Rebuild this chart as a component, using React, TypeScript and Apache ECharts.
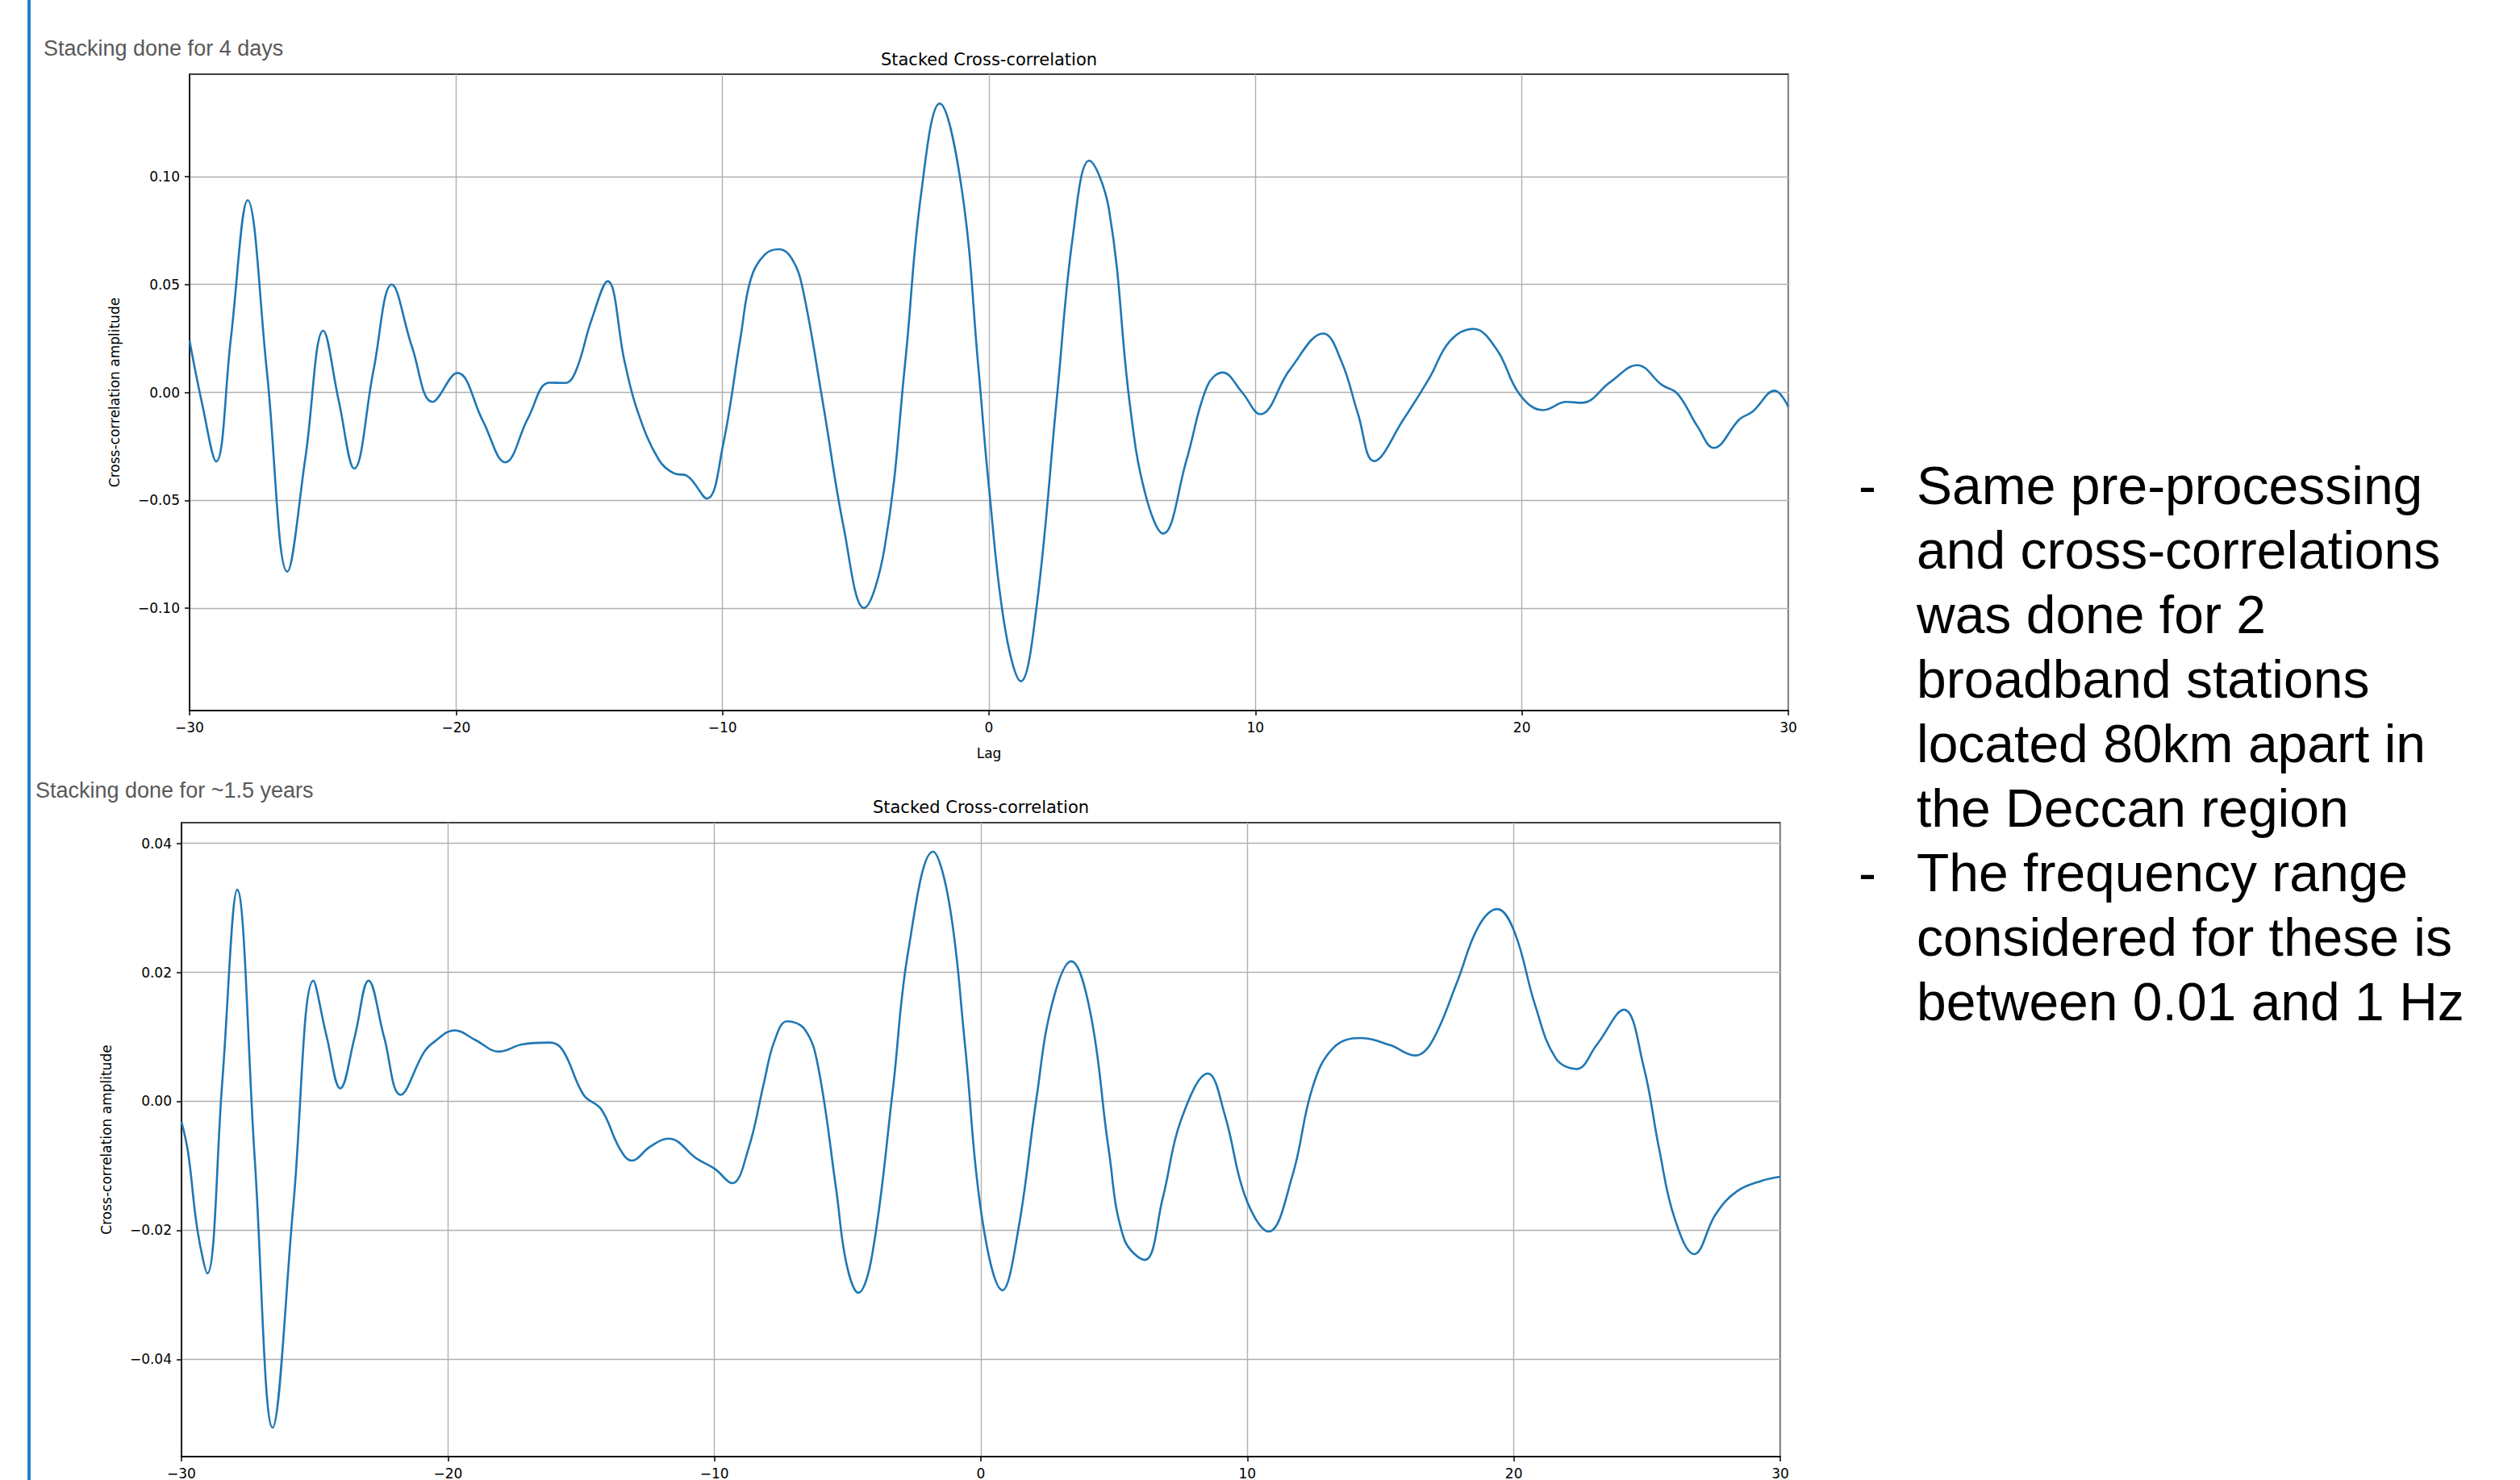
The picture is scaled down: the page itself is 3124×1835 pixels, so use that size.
import React, { useEffect, useRef } from "react";
import * as echarts from "echarts";

// ---- Data ----
const topLags = [
  -30.0, -29.55, -29.0, -28.45, -27.82, -27.1, -26.33, -25.65, -24.98, -24.4, -23.82, -23.1, -22.41,
  -21.65, -20.88, -19.95, -19.0, -18.15, -17.3, -16.5, -15.9, -15.5, -14.93, -14.31, -13.67, -13.19,
  -12.4, -11.8, -11.35, -10.58, -10.0, -9.32, -8.94, -8.4, -7.87, -7.4, -7.0, -6.23, -5.46, -4.69,
  -3.91, -3.14, -2.56, -1.85, -1.02, -0.4, 0.0, 0.6, 1.2, 1.78, 2.56, 3.14, 3.76, 4.5, 5.28, 5.86,
  6.54, 7.41, 8.19, 8.77, 9.5, 10.18, 11.29, 12.55, 13.23, 13.85, 14.45, 15.56, 16.53, 17.3, 18.18,
  19.05, 19.92, 20.8, 21.67, 22.25, 23.32, 24.33, 25.26, 25.84, 26.6, 27.2, 28.17, 28.65, 29.49, 30.0,
];
const topValues = [
  0.024, -0.004, -0.032, 0.025, 0.089, 0.01, -0.083, -0.03, 0.0286, -0.004, -0.0353, 0.01, 0.05,
  0.021, -0.0044, 0.009, -0.013, -0.0324, -0.012, 0.0045, 0.0044, 0.01, 0.033, 0.0515, 0.014, -0.0086,
  -0.031, -0.0376, -0.0385, -0.0492, -0.0257, 0.0257, 0.0524, 0.064, 0.0663, 0.062, 0.0486, -0.005,
  -0.062, -0.0999, -0.0715, 0.0143, 0.0906, 0.1338, 0.094, 0.012, -0.044, -0.109, -0.1338, -0.1, -0.001,
  0.0715, 0.1073, 0.085, -0.0048, -0.0467, -0.0654, -0.0315, 0.0029, 0.0092, 0.0, -0.0101, 0.0105,
  0.0273, 0.0143, -0.01, -0.0318, -0.0124, 0.0067, 0.0238, 0.0294, 0.02, -0.001, -0.0082, -0.0044,
  -0.0048, 0.0048, 0.0126, 0.0034, -0.0006, -0.016, -0.0257, -0.0124, -0.009, 0.0008, -0.0067,
];

const bottomLags = [
  -30.0, -29.75, -29.4, -29.03, -28.47, -27.91, -27.25, -26.58, -25.8, -25.05, -24.55, -24.04, -23.5,
  -22.98, -22.4, -21.78, -20.9, -20.52, -19.75, -18.97, -18.08, -17.23, -16.17, -15.69, -14.91, -14.24,
  -13.56, -13.11, -12.4, -11.72, -10.66, -9.98, -9.34, -8.72, -8.14, -7.76, -7.27, -6.6, -6.11, -5.43,
  -5.05, -4.6, -4.08, -3.31, -2.73, -1.8, -1.18, -0.6, 0.04, 0.81, 1.4, 2.08, 2.66, 3.39, 4.11, 4.79,
  5.37, 6.15, 6.83, 7.51, 8.52, 9.16, 9.93, 10.8, 11.68, 12.45, 13.23, 14.24, 15.36, 16.29, 16.92,
  17.89, 18.66, 19.38, 20.02, 20.8, 21.57, 22.35, 23.12, 24.13, 24.87, 25.45, 26.03, 26.77, 27.58,
  28.36, 29.33, 30.0,
];
const bottomValues = [
  -0.0032, -0.008, -0.02, -0.0267, 0.003, 0.0328, -0.009, -0.0506, -0.016, 0.0187, 0.01, 0.002, 0.01,
  0.0187, 0.01, 0.001, 0.0076, 0.0092, 0.011, 0.0095, 0.0077, 0.0088, 0.0091, 0.0079, 0.001, -0.0013,
  -0.0073, -0.0092, -0.007, -0.0058, -0.0089, -0.0105, -0.0127, -0.0073, 0.0029, 0.0092, 0.0124,
  0.0111, 0.0054, -0.0137, -0.0251, -0.0297, -0.0238, 0.0016, 0.0232, 0.0387, 0.0305, 0.0089, -0.018,
  -0.0293, -0.02, 0.0003, 0.0149, 0.0217, 0.0137, -0.0073, -0.0213, -0.0246, -0.0149, -0.0029, 0.0043,
  -0.0022, -0.0149, -0.0202, -0.0117, 0.0022, 0.0083, 0.0098, 0.0087, 0.0071, 0.0092, 0.0187, 0.027,
  0.0298, 0.0263, 0.0149, 0.0067, 0.005, 0.0088, 0.0142, 0.0054, -0.0073, -0.0181, -0.0237, -0.0175,
  -0.014, -0.0123, -0.0117,
];

const xTicks = [-30, -20, -10, 0, 10, 20, 30];
const topYTicks = [-0.1, -0.05, 0.0, 0.05, 0.1];
const bottomYTicks = [-0.04, -0.02, 0.0, 0.02, 0.04];
const topYRange = [-0.1474, 0.1474];
const bottomYRange = [-0.0551, 0.0432];

const topCaption = "Stacking done for 4 days";
const bottomCaption = "Stacking done for ~1.5 years";
const plotTitle = "Stacked Cross-correlation";
const yName = "Cross-correlation amplitude";
const xName = "Lag";
const bulletLines = [
  { dash: true, text: "Same pre-processing" },
  { dash: false, text: "and cross-correlations" },
  { dash: false, text: "was done for 2" },
  { dash: false, text: "broadband stations" },
  { dash: false, text: "located 80km apart in" },
  { dash: false, text: "the Deccan region" },
  { dash: true, text: "The frequency range" },
  { dash: false, text: "considered for these is" },
  { dash: false, text: "between 0.01 and 1 Hz" },
];

const MPL_FONT = "DejaVu Sans";
const SLIDE_FONT = "Liberation Sans";
const fmtMinus = (s: string) => s.replace("-", "\u2212");

function makeYAxis(gridIndex: number, range: number[], ticks: number[]) {
  return {
    type: "value",
    gridIndex,
    min: range[0],
    max: range[1],
    name: yName,
    nameLocation: "middle",
    nameGap: 85,
    nameRotate: 90,
    nameTextStyle: { fontFamily: MPL_FONT, fontSize: 17, color: "#000" },
    axisLine: { show: true, onZero: false, lineStyle: { color: "#000", width: 1.5 } },
    axisTick: {
      show: true,
      inside: false,
      length: 6,
      customValues: ticks,
      lineStyle: { color: "#000", width: 1.5 },
    },
    axisLabel: {
      show: true,
      customValues: ticks,
      margin: 12,
      fontFamily: MPL_FONT,
      fontSize: 17,
      color: "#000",
      formatter: (v: number) => fmtMinus(v.toFixed(2)),
    },
    splitLine: { show: true, lineStyle: { color: "#b0b0b0", width: 1.4 } },
  };
}

function makeXAxis(gridIndex: number, withName: boolean) {
  return {
    type: "value",
    gridIndex,
    min: xTicks[0],
    max: xTicks[xTicks.length - 1],
    interval: 10,
    name: withName ? xName : "",
    nameLocation: "middle",
    nameGap: 44,
    nameTextStyle: { fontFamily: MPL_FONT, fontSize: 17, color: "#000" },
    axisLine: { show: true, onZero: false, lineStyle: { color: "#000", width: 1.5 } },
    axisTick: { show: true, inside: false, length: 6, lineStyle: { color: "#000", width: 1.5 } },
    axisLabel: {
      show: true,
      margin: 12,
      fontFamily: MPL_FONT,
      fontSize: 17,
      color: "#000",
      formatter: (v: number) => fmtMinus(String(v)),
    },
    splitLine: { show: true, lineStyle: { color: "#b0b0b0", width: 1.4 } },
  };
}

export default function App() {
  const ref = useRef<HTMLDivElement>(null);

  useEffect(() => {
    if (!ref.current) return;
    const chart = echarts.init(ref.current, undefined, { renderer: "svg" });

    const graphics: any[] = [
      { type: "rect", shape: { x: 34, y: 0, width: 4, height: 1835 }, style: { fill: "#2180cf" }, silent: true },
      {
        type: "text",
        x: 54,
        y: 60,
        style: { text: topCaption, font: `27px "${SLIDE_FONT}"`, fill: "#595959", textAlign: "left", textVerticalAlign: "middle" },
      },
      {
        type: "text",
        x: 44,
        y: 980,
        style: { text: bottomCaption, font: `27px "${SLIDE_FONT}"`, fill: "#595959", textAlign: "left", textVerticalAlign: "middle" },
      },
      {
        type: "text",
        x: 1226,
        y: 74,
        style: { text: plotTitle, font: `21px "${MPL_FONT}"`, fill: "#000", textAlign: "center", textVerticalAlign: "middle" },
      },
      {
        type: "text",
        x: 1216,
        y: 1001,
        style: { text: plotTitle, font: `21px "${MPL_FONT}"`, fill: "#000", textAlign: "center", textVerticalAlign: "middle" },
      },
    ];
    bulletLines.forEach((ln, i) => {
      const y = 602 + i * 80;
      if (ln.dash) {
        graphics.push({
          type: "text",
          x: 2304,
          y,
          style: { text: "-", font: `66px "${SLIDE_FONT}"`, fill: "#000", textAlign: "left", textVerticalAlign: "middle" },
        });
      }
      graphics.push({
        type: "text",
        x: 2376,
        y,
        style: { text: ln.text, font: `66px "${SLIDE_FONT}"`, fill: "#000", textAlign: "left", textVerticalAlign: "middle" },
      });
    });

    const option: any = {
      animation: false,
      backgroundColor: "#ffffff",
      grid: [
        { left: 235, top: 92, width: 1982, height: 789, show: true, borderColor: "#000", borderWidth: 1.5, backgroundColor: "transparent" },
        { left: 225, top: 1020, width: 1982, height: 790, show: true, borderColor: "#000", borderWidth: 1.5, backgroundColor: "transparent" },
      ],
      xAxis: [makeXAxis(0, true), makeXAxis(1, false)],
      yAxis: [makeYAxis(0, topYRange, topYTicks), makeYAxis(1, bottomYRange, bottomYTicks)],
      series: [
        {
          type: "line",
          xAxisIndex: 0,
          yAxisIndex: 0,
          data: topLags.map((x, i) => [x, topValues[i]]),
          showSymbol: false,
          smooth: 0.4,
          lineStyle: { color: "#1f77b4", width: 2.6 },
          itemStyle: { color: "#1f77b4" },
          clip: true,
        },
        {
          type: "line",
          xAxisIndex: 1,
          yAxisIndex: 1,
          data: bottomLags.map((x, i) => [x, bottomValues[i]]),
          showSymbol: false,
          smooth: 0.4,
          lineStyle: { color: "#1f77b4", width: 2.6 },
          itemStyle: { color: "#1f77b4" },
          clip: true,
        },
      ],
      graphic: graphics,
    };

    chart.setOption(option);
    return () => chart.dispose();
  }, []);

  return (
    <div
      ref={ref}
      style={{ position: "absolute", left: 0, top: 0, width: 3124, height: 1835, background: "#fff" }}
    />
  );
}
